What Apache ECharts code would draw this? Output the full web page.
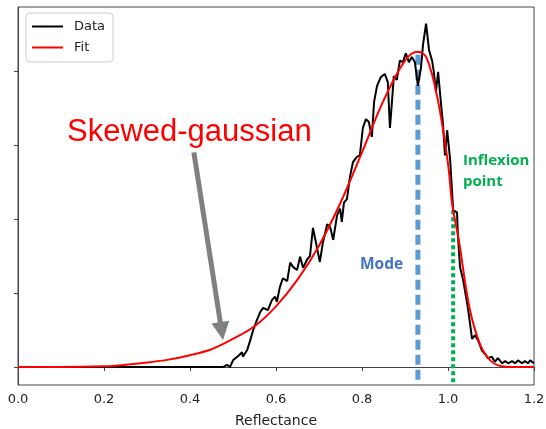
<!DOCTYPE html>
<html>
<head>
  <meta charset="utf-8" />
  <title>Skewed-gaussian fit of reflectance</title>
  <script src="https://cdn.jsdelivr.net/npm/echarts@6/dist/echarts.min.js"></script>
</head>
<body style="margin:0;background:#fff;">
  <div id="chart" style="width:546px;height:429px;"></div>
  <script type="text/javascript">

    // Measured data (reflectance histogram)
    let dataX = [0, 0.447, 0.477, 0.486, 0.493, 0.5, 0.512, 0.521, 0.523, 0.533, 0.54, 0.547, 0.556, 0.563, 0.57,
      0.581, 0.591, 0.598, 0.602, 0.609, 0.616, 0.626, 0.633, 0.64, 0.649, 0.656, 0.663, 0.672, 0.679, 0.686,
      0.695, 0.702, 0.709, 0.719, 0.726, 0.733, 0.742, 0.749, 0.753, 0.758, 0.765, 0.772, 0.779, 0.788, 0.795,
      0.802, 0.809, 0.816, 0.821, 0.823, 0.828, 0.835, 0.844, 0.853, 0.86, 0.865, 0.87, 0.874, 0.881, 0.888,
      0.895, 0.902, 0.909, 0.916, 0.923, 0.93, 0.937, 0.942, 0.949, 0.956, 0.963, 0.967, 0.972, 0.977, 0.984,
      0.988, 0.993, 0.998, 1.005, 1.012, 1.021, 1.023, 1.028, 1.035, 1.042, 1.047, 1.056, 1.063, 1.07, 1.079,
      1.086, 1.093, 1.102, 1.109, 1.116, 1.126, 1.133, 1.14, 1.149, 1.156, 1.163, 1.172, 1.179, 1.186, 1.191, 1.2];
    let dataY = [0, 0, 0, 0.03, 0, 0.09, 0.15, 0.2, 0.14, 0.23, 0.36, 0.5, 0.64, 0.74, 0.8,
      0.77, 0.91, 0.95, 0.88, 1.08, 1.2, 1.16, 1.41, 1.35, 1.31, 1.49, 1.34, 1.45, 1.5, 1.88,
      1.62, 1.42, 1.68, 1.93, 1.89, 1.72, 2.05, 2.14, 1.96, 2.22, 2.27, 2.57, 2.77, 2.84, 2.86,
      3.23, 3.35, 3.31, 3.16, 3.11, 3.58, 3.8, 3.92, 3.96, 3.85, 3.23, 3.61, 3.93, 3.88, 4.14,
      4.12, 4.24, 4.12, 4.19, 4.12, 3.8, 4.04, 4.36, 4.64, 4.28, 4.14, 3.99, 3.72, 3.99, 3.54,
      3.31, 2.86, 3.2, 2.8, 2.12, 2.09, 1.78, 1.35, 1.18, 0.95, 0.77, 0.38, 0.43, 0.36, 0.22,
      0.18, 0.12, 0.14, 0.07, 0.12, 0.05, 0.08, 0.05, 0.08, 0.05, 0.09, 0.05, 0.08, 0.05, 0.09, 0.05];

    // Skewed-gaussian fit
    let fitX = [0, 0.1, 0.2, 0.25, 0.3, 0.35, 0.4, 0.45, 0.5, 0.55, 0.6, 0.65, 0.7, 0.75, 0.8, 0.85, 0.9, 0.93,
      0.95, 0.975, 1.0, 1.01, 1.025, 1.05, 1.075, 1.1, 1.125, 1.15, 1.2];
    let fitY = [0, 0, 0.01, 0.03, 0.06, 0.1, 0.16, 0.24, 0.38, 0.55, 0.82, 1.18, 1.64, 2.22, 2.9, 3.6, 4.14, 4.26,
      4.18, 3.65, 2.75, 2.19, 1.72, 0.8, 0.3, 0.08, 0.01, 0, 0];

    // Mode and inflexion point markers
    let modeX = 0.93, modeTop = 4.22;
    let inflX = 1.012, inflTop = 2.12;

    // Arrow pointing at the fit (from, to)
    let arrowFrom = [0.409, 2.9];
    let arrowTo = [0.4737, 0.485];

    let xTicks = [0, 0.2, 0.4, 0.6, 0.8, 1.0, 1.2];
    let yTicks = [0, 1, 2, 3, 4];
    let yMin = -0.243, yMax = 4.865;

    var chart = echarts.init(document.getElementById('chart'));

    var option = {
      animation: false,
      grid: {
        left: 18,
        right: 12,
        top: 7,
        bottom: 44,
        outerBoundsMode: 'none',
        show: true,
        borderColor: '#444',
        borderWidth: 1
      },
      legend: {
        data: ['Data', 'Fit'],
        orient: 'vertical',
        left: 26,
        top: 13,
        itemWidth: 31,
        itemHeight: 2,
        itemGap: 8,
        padding: [7, 8, 8, 5],
        borderColor: '#ccc',
        borderWidth: 1,
        borderRadius: 4,
        backgroundColor: 'rgba(255,255,255,0.8)',
        textStyle: {
          fontFamily: 'DejaVu Sans',
          fontSize: 13,
          color: '#222',
          padding: [0, 0, 0, 6]
        }
      },
      xAxis: {
        type: 'value',
        min: 0,
        max: 1.2,
        interval: 0.2,
        name: 'Reflectance',
        nameLocation: 'middle',
        nameGap: 29,
        nameTextStyle: { fontFamily: 'DejaVu Sans', fontSize: 14, color: '#222' },
        axisLine: { lineStyle: { color: '#444' } },
        axisTick: { length: 4, lineStyle: { color: '#444' }, customValues: xTicks },
        axisLabel: {
          fontFamily: 'DejaVu Sans',
          fontSize: 13,
          color: '#222',
          margin: 8,
          customValues: xTicks,
          formatter: function (v) { return v.toFixed(1); }
        },
        splitLine: { show: false }
      },
      yAxis: {
        type: 'value',
        min: yMin,
        max: yMax,
        axisLine: { show: true, lineStyle: { color: '#444' } },
        axisTick: { show: true, length: 4, lineStyle: { color: '#444' }, customValues: yTicks },
        axisLabel: { show: false },
        splitLine: { show: false }
      },
      series: [
        {
          name: 'Mode',
          type: 'line',
          symbol: 'none',
          z: 1,
          data: [[modeX, modeTop], [modeX, yMin]],
          lineStyle: { color: '#5B9BD5', width: 5, type: [10, 5] }
        },
        {
          name: 'Inflexion',
          type: 'line',
          symbol: 'none',
          z: 1,
          data: [[inflX, inflTop], [inflX, yMin]],
          lineStyle: { color: '#00B050', width: 4, type: [4, 3] }
        },
        {
          name: 'Data',
          type: 'line',
          symbol: 'none',
          color: '#000',
          z: 3,
          data: dataX.map(function (x, i) { return [x, dataY[i]]; }),
          lineStyle: { color: '#000', width: 2 }
        },
        {
          name: 'Fit',
          type: 'line',
          symbol: 'none',
          smooth: 0.35,
          color: '#ff0000',
          z: 4,
          data: fitX.map(function (x, i) { return [x, fitY[i]]; }),
          lineStyle: { color: '#ff0000', width: 2 }
        },
        {
          // gray arrow pointing at the fitted curve
          name: 'Arrow',
          type: 'line',
          data: [],
          z: 2,
          markLine: {
            silent: true,
            symbol: ['none', 'triangle'],
            symbolSize: 18,
            label: { show: false },
            itemStyle: { color: '#808080' },
            lineStyle: { color: '#808080', width: 5, type: 'solid' },
            data: [[{ coord: arrowFrom }, { coord: arrowTo }]]
          }
        }
      ],
      graphic: [
        {
          type: 'text',
          x: 67,
          y: 132,
          style: {
            text: 'Skewed-gaussian',
            fontFamily: 'Liberation Sans',
            fontSize: 31,
            fill: '#ff0000',
            verticalAlign: 'middle'
          }
        },
        {
          type: 'text',
          x: 360,
          y: 265,
          style: {
            text: 'Mode',
            fontFamily: 'Open Sans',
            fontWeight: 'bold',
            fontSize: 15.5,
            fill: '#4472C4',
            verticalAlign: 'middle'
          }
        },
        {
          type: 'text',
          x: 463,
          y: 171,
          style: {
            text: 'Inflexion\npoint',
            fontFamily: 'Open Sans',
            fontWeight: 'bold',
            fontSize: 15,
            lineHeight: 21,
            fill: '#00B050',
            verticalAlign: 'middle'
          }
        }
      ]
    };

    chart.setOption(option);
  </script>
</body>
</html>
